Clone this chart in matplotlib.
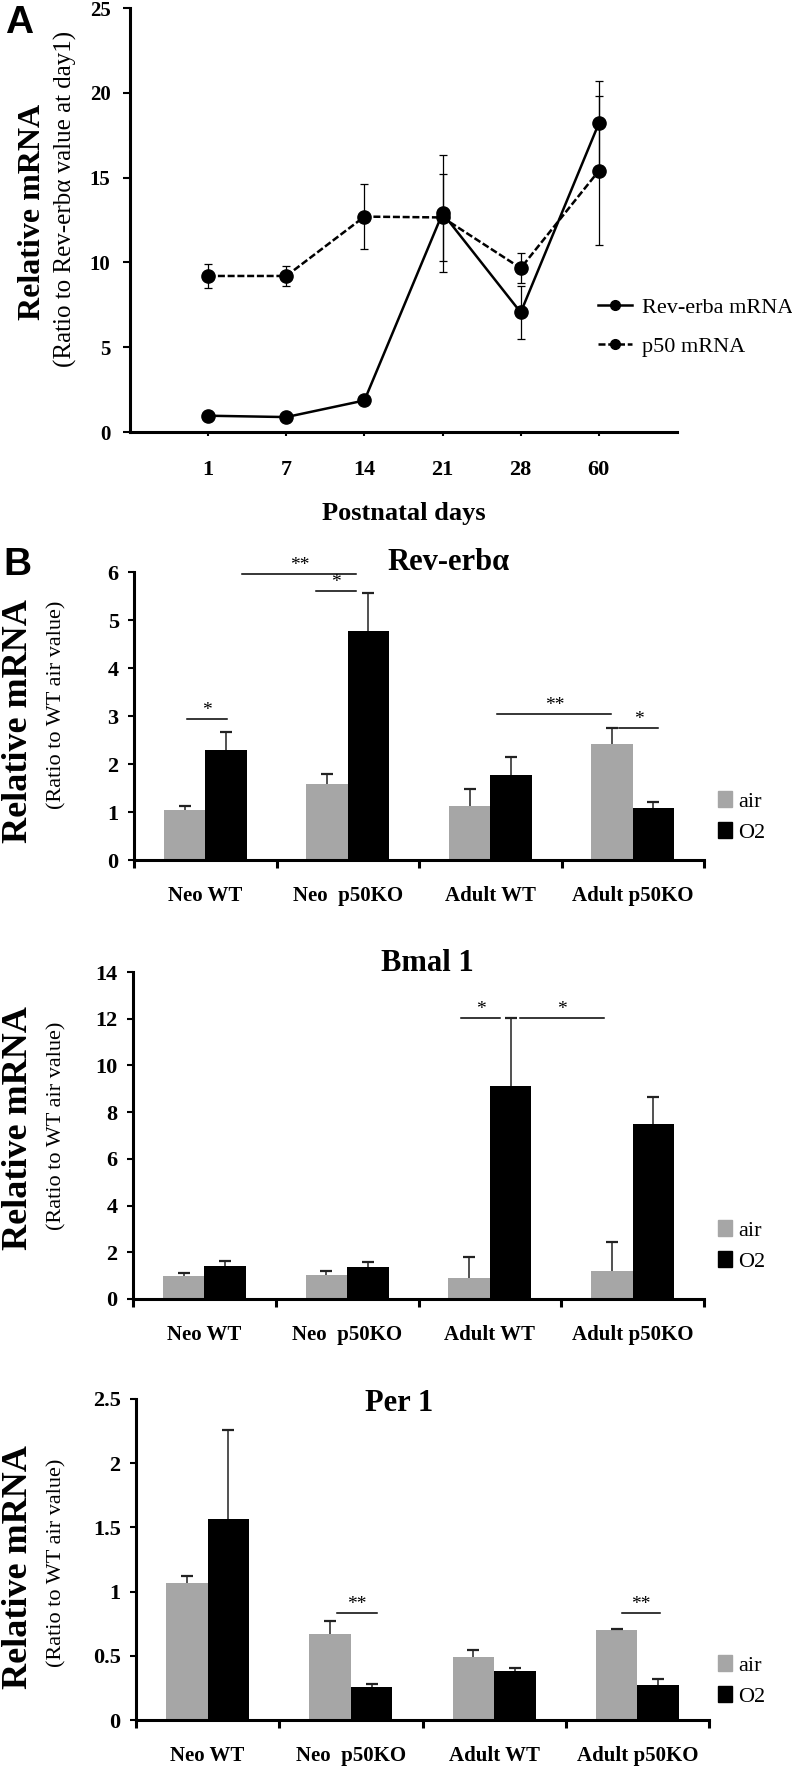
import matplotlib
matplotlib.use('Agg')
import matplotlib.pyplot as plt
import numpy as np
from matplotlib.patches import Patch
from matplotlib.lines import Line2D

plt.rcParams['font.family'] = ['Liberation Serif', 'DejaVu Serif']

W, H = 792, 1769

# ---- panel A data ----
days = ['1', '7', '14', '21', '28', '60']
rev_mean = [0.96, 0.88, 1.86, 12.9, 7.05, 18.2]
rev_err = [0.1, 0.1, 0.1, 3.45, 1.55, 2.5]
p50_mean = [9.2, 9.2, 12.7, 12.65, 9.66, 15.4]
p50_err = [0.72, 0.6, 1.9, 2.55, 0.87, 4.4]

# ---- panel B data ----
groups = ['Neo WT', 'Neo  p50KO', 'Adult WT', 'Adult p50KO']

rev_air = [1.05, 1.59, 1.12, 2.42]
rev_air_err = [0.07, 0.21, 0.36, 0.32]
rev_o2 = [2.29, 4.77, 1.77, 1.075]
rev_o2_err = [0.37, 0.79, 0.37, 0.125]

bmal_air = [0.98, 1.04, 0.88, 1.21]
bmal_air_err = [0.14, 0.18, 0.92, 1.25]
bmal_o2 = [1.42, 1.36, 9.1, 7.49]
bmal_o2_err = [0.21, 0.24, 2.94, 1.14]

per_air = [1.064, 0.67, 0.493, 0.698]
per_air_err = [0.06, 0.1, 0.055, 0.013]
per_o2 = [1.565, 0.257, 0.379, 0.273]
per_o2_err = [0.695, 0.023, 0.023, 0.044]

# significance marks: (x0, x1, y, label)
rev_sig = [(-0.13, 0.15, 2.93, '*'), (0.26, 1.06, 5.95, '**'), (0.78, 1.06, 5.6, '*'),
           (2.05, 2.85, 3.05, '**'), (2.90, 3.18, 2.75, '*')]
bmal_sig = [(1.80, 2.07, 12.05, '*'), (2.21, 2.80, 12.05, '*')]
per_sig = [(0.90, 1.18, 0.836, '**'), (2.89, 3.16, 0.836, '**')]


def box(left, right, top, bottom):
    return [left / W, 1 - bottom / H, (right - left) / W, (bottom - top) / H]


fig = plt.figure(figsize=(W / 100, H / 100), dpi=100)

# ---------------- Panel A ----------------
ax = fig.add_axes(box(130, 677, 8, 432))
x = np.arange(1, len(days) + 1)
dash = (0, (2.8, 1.1))
ax.errorbar(x, rev_mean, yerr=rev_err, fmt='-o', color='black', lw=1.8, ms=9.5,
            elinewidth=0.9, capsize=3, capthick=0.9)
ax.errorbar(x, p50_mean, yerr=p50_err, fmt='o', ls=dash, color='black', lw=1.8,
            ms=9.5, elinewidth=0.9, capsize=3, capthick=0.9)
ax.set_xlim(0, 7)
ax.set_ylim(0, 25)
ax.set_xticks(x)
ax.set_xticklabels(days)
ax.set_yticks(range(0, 26, 5))
for s in ['top', 'right']:
    ax.spines[s].set_visible(False)
for s in ['left', 'bottom']:
    ax.spines[s].set_linewidth(2.2)
ax.tick_params(axis='y', direction='out', length=5, width=1.5, labelsize=15, pad=9)
ax.tick_params(axis='x', direction='out', length=3, width=1.5, labelsize=16, pad=17)
for t in ax.get_xticklabels() + ax.get_yticklabels():
    t.set_fontweight('bold')
ax.set_xlabel('Postnatal days', fontsize=19, fontweight='bold', labelpad=16)
leg_handles = [Line2D([], [], color='black', lw=1.8, marker='o', ms=7, label='Rev-erba mRNA'),
               Line2D([], [], color='black', lw=1.8, ls=dash, marker='o', ms=7, label='p50 mRNA')]
ax.legend(handles=leg_handles, loc='center left', bbox_to_anchor=(598 / W, 1 - 327 / H),
          bbox_transform=fig.transFigure, frameon=False, fontsize=16, handlelength=1.55,
          handletextpad=0.45, labelspacing=0.85, borderpad=0, borderaxespad=0)
fig.text(33 / W, 1 - 212 / H, 'Relative mRNA', rotation=90, fontsize=23, fontweight='bold',
         ha='center', va='center')
fig.text(65 / W, 1 - 199 / H, '(Ratio to Rev-erbα value at day1)', rotation=90, fontsize=18,
         ha='center', va='center')
fig.text(5 / W, 1 - 23 / H, 'A', fontsize=28, fontweight='bold', family='Liberation Sans',
         ha='left', va='center')

# ---------------- Panel B ----------------
AIR = '#a6a6a6'
bw = 0.29


def up_errors(ax, xs, vals, errs):
    # one-sided (upper) error bars: stem plus a cap at the top only
    vals = np.asarray(vals)
    tops = vals + np.asarray(errs)
    ax.vlines(xs, vals, tops, color='#222222', lw=1.1, zorder=3)
    ax.plot(xs, tops, ls='none', marker='_', ms=9, mew=1.6, color='#222222', zorder=3)


def bar_panel(rect, title, title_xy, air, air_err, o2, o2_err, ymax, ystep,
              sig, leg_y, ylab_y, ratio_y):
    ax = fig.add_axes(rect)
    xs = np.arange(len(groups))
    ax.bar(xs - bw / 2, air, bw, color=AIR)
    ax.bar(xs + bw / 2, o2, bw, color='black')
    up_errors(ax, xs - bw / 2, air, air_err)
    up_errors(ax, xs + bw / 2, o2, o2_err)
    ax.set_xlim(-0.5, len(groups) - 0.5)
    ax.set_ylim(0, ymax)
    ticks = np.arange(0, ymax + ystep / 2, ystep)
    ax.set_yticks(ticks)
    ax.set_yticklabels([f'{t:g}' for t in ticks])
    ax.set_xticks(np.arange(-0.5, len(groups), 1.0))
    ax.set_xticklabels([])
    ax.set_xticks(xs, minor=True)
    ax.set_xticklabels(groups, minor=True)
    ax.tick_params(axis='x', which='minor', length=0, labelsize=15, pad=19)
    ax.tick_params(axis='x', which='major', direction='out', length=6, width=2.2)
    ax.tick_params(axis='y', direction='out', length=4, width=1.5, labelsize=16, pad=7)
    for t in ax.get_xticklabels(minor=True) + ax.get_yticklabels():
        t.set_fontweight('bold')
    for s in ['top', 'right']:
        ax.spines[s].set_visible(False)
    for s in ['left', 'bottom']:
        ax.spines[s].set_linewidth(2.2)
    for x0, x1, y, lab in sig:
        ax.plot([x0, x1], [y, y], color='black', lw=1.1, clip_on=False)
        ax.text((x0 + x1) / 2, y, lab, ha='center', va='bottom', fontsize=14)
    fig.text(title_xy[0] / W, 1 - title_xy[1] / H, title, fontsize=22, fontweight='bold',
             ha='center', va='center')
    handles = [Patch(color=AIR, label='air'), Patch(color='black', label='O2')]
    fig.legend(handles=handles, loc='center left', bbox_to_anchor=(718 / W, 1 - leg_y / H),
               frameon=False, fontsize=16, handlelength=0.65, handleheight=0.75,
               handletextpad=0.25, labelspacing=0.45, borderpad=0, borderaxespad=0)
    fig.text(19 / W, 1 - ylab_y / H, 'Relative mRNA', rotation=90, fontsize=26, fontweight='bold',
             ha='center', va='center')
    fig.text(57 / W, 1 - ratio_y / H, '(Ratio to WT air value)', rotation=90, fontsize=16,
             ha='center', va='center')
    return ax


bar_panel(box(134, 704, 572, 860), 'Rev-erbα', (449, 562), rev_air, rev_air_err, rev_o2,
          rev_o2_err, 6, 1, rev_sig, 817, 721, 705)
bar_panel(box(133, 704, 972, 1299), 'Bmal 1', (427, 963), bmal_air, bmal_air_err, bmal_o2,
          bmal_o2_err, 14, 2, bmal_sig, 1246, 1128, 1126)
bar_panel(box(136, 709, 1399, 1720), 'Per 1', (399, 1403), per_air, per_air_err, per_o2,
          per_o2_err, 2.5, 0.5, per_sig, 1681, 1567, 1563)

fig.text(3 / W, 1 - 565 / H, 'B', fontsize=28, fontweight='bold', family='Liberation Sans',
         ha='left', va='center')

fig.savefig('out.png', dpi=100)
